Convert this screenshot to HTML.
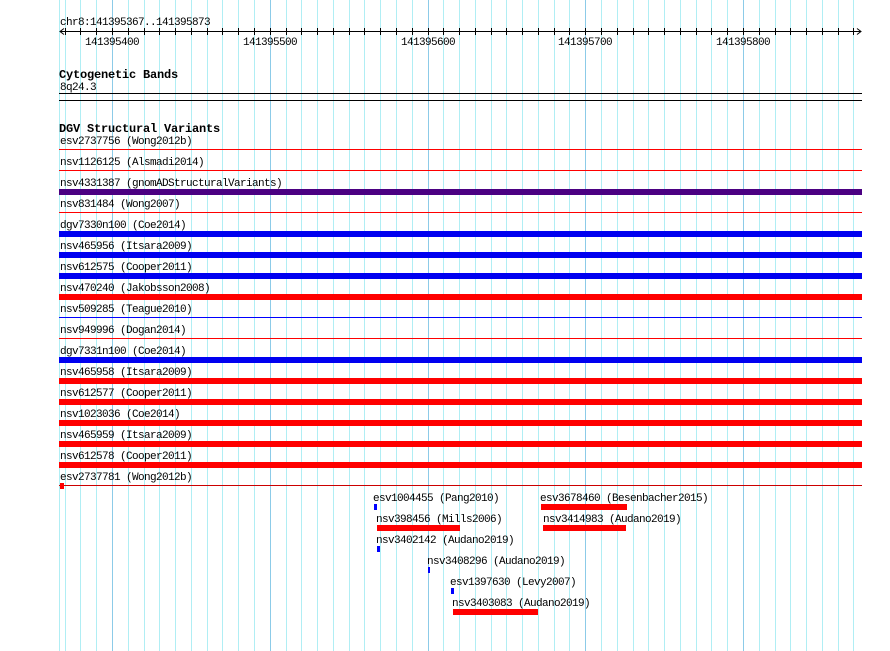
<!DOCTYPE html>
<html><head><meta charset="utf-8"><style>
html,body{margin:0;padding:0;background:#fff;width:890px;height:651px;overflow:hidden}
svg{display:block}
text{font-family:"Liberation Mono","DejaVu Sans Mono",monospace;font-size:11px;letter-spacing:-0.6px;fill:#000}
.b{font-weight:bold;font-size:12px;letter-spacing:-0.2px}
</style></head><body>
<svg id="s" width="890" height="651" xmlns="http://www.w3.org/2000/svg">
<g id="grid"></g>
<line x1="60" y1="31.5" x2="861" y2="31.5" stroke="#000"/>
<path d="M64 28.5 L60 31.5 L64 34.5 M857 28.5 L861 31.5 L857 34.5" stroke="#000" fill="none"/>
<g id="ticks" stroke="#000"></g>
<text x="60" y="25">chr8:141395367..141395873</text>
<text x="112" y="45" text-anchor="middle">141395400</text>
<text x="270" y="45" text-anchor="middle">141395500</text>
<text x="428" y="45" text-anchor="middle">141395600</text>
<text x="585" y="45" text-anchor="middle">141395700</text>
<text x="743" y="45" text-anchor="middle">141395800</text>
<text class="b" x="59" y="78">Cytogenetic Bands</text>
<text x="60" y="90">8q24.3</text>
<line x1="59" y1="93.5" x2="862" y2="93.5" stroke="#000"/>
<line x1="59" y1="100.5" x2="862" y2="100.5" stroke="#000"/>
<text class="b" x="59" y="132">DGV Structural Variants</text>
<g id="rows"></g>
<g id="extra"></g>
</svg>
<script>
var NS="http://www.w3.org/2000/svg";
function el(p,t,a,txt){var e=document.createElementNS(NS,t);for(var k in a)e.setAttribute(k,a[k]);if(txt)e.textContent=txt;document.getElementById(p).appendChild(e);return e;}
var step=15.775;
el("grid","line",{x1:59.5,y1:0,x2:59.5,y2:651,stroke:"#b0eef4"});
for(var k=-10;k<60;k++){var x=112+step*k;if(x<62||x>862)continue;var xr=Math.round(x)+0.5;
 var major=(k%10===0);
 el("grid","line",{x1:xr,y1:0,x2:xr,y2:651,stroke:major?"#8ccbe8":"#b0eef4"});
 if(x<=858)el("ticks","line",{x1:xr,y1:28,x2:xr,y2:35});
}
var rows=[
["esv2737756 (Wong2012b)","line","#f00"],
["nsv1126125 (Alsmadi2014)","line","#f00"],
["nsv4331387 (gnomADStructuralVariants)","bar","#4b0082"],
["nsv831484 (Wong2007)","line","#f00"],
["dgv7330n100 (Coe2014)","bar","#0000f0"],
["nsv465956 (Itsara2009)","bar","#0000f0"],
["nsv612575 (Cooper2011)","bar","#0000f0"],
["nsv470240 (Jakobsson2008)","bar","#f00"],
["nsv509285 (Teague2010)","line","#00f"],
["nsv949996 (Dogan2014)","line","#f00"],
["dgv7331n100 (Coe2014)","bar","#0000f0"],
["nsv465958 (Itsara2009)","bar","#f00"],
["nsv612577 (Cooper2011)","bar","#f00"],
["nsv1023036 (Coe2014)","bar","#f00"],
["nsv465959 (Itsara2009)","bar","#f00"],
["nsv612578 (Cooper2011)","bar","#f00"],
["esv2737781 (Wong2012b)","small","#f00"]];
rows.forEach(function(r,i){var y=140+21*i;
 el("rows","text",{x:60,y:y+4},r[0]);
 if(r[1]=="bar")el("rows","rect",{x:59,y:y+7,width:803,height:6,fill:r[2]});
 else if(r[1]=="line")el("rows","line",{x1:59,y1:y+9.5,x2:862,y2:y+9.5,stroke:r[2]});
 else{el("rows","line",{x1:59,y1:y+9.5,x2:862,y2:y+9.5,stroke:"#c00"});el("rows","rect",{x:60,y:y+7,width:4,height:6,fill:r[2]});}
});
var ex=[
["esv1004455 (Pang2010)",373,497,374,3,"#00f"],
["esv3678460 (Besenbacher2015)",540,497,541,86,"#f00"],
["nsv398456 (Mills2006)",376,518,377,83,"#f00"],
["nsv3414983 (Audano2019)",543,518,543,83,"#f00"],
["nsv3402142 (Audano2019)",376,539,377,3,"#00f"],
["nsv3408296 (Audano2019)",427,560,428,2,"#00f"],
["esv1397630 (Levy2007)",450,581,451,3,"#00f"],
["nsv3403083 (Audano2019)",452,602,453,85,"#f00"]];
ex.forEach(function(e){el("extra","text",{x:e[1],y:e[2]+4},e[0]);el("extra","rect",{x:e[3],y:e[2]+7,width:e[4],height:6,fill:e[5]});});
</script>
</body></html>
